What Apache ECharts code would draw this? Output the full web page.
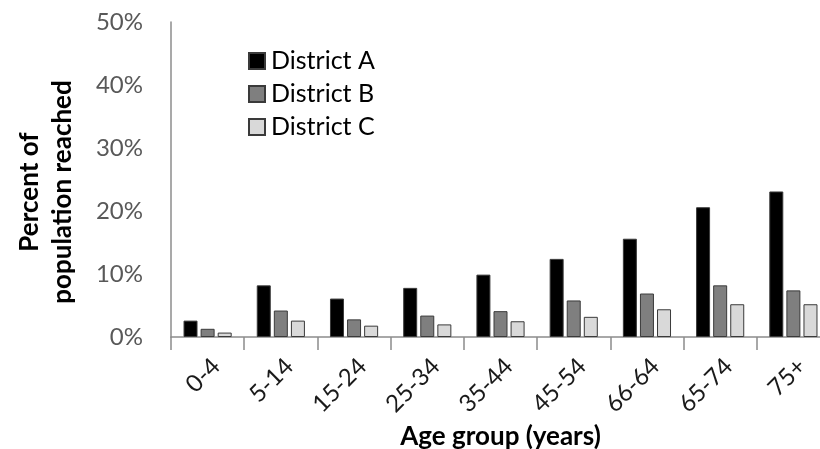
<!DOCTYPE html>
<html>
<head>
<meta charset="utf-8">
<script src="https://cdn.jsdelivr.net/npm/echarts@6/dist/echarts.min.js"></script>
<style>html,body{margin:0;padding:0;background:#fff;}#c{width:820px;height:449px;}</style>
</head>
<body>
<div id="c"></div>
<script>
const categories = ['0-4', '5-14', '15-24', '25-34', '35-44', '45-54', '66-64', '65-74', '75+'];
const districtA = [2.6, 8.2, 6.1, 7.8, 9.9, 12.4, 15.6, 20.6, 23.1];
const districtB = [1.3, 4.2, 2.8, 3.4, 4.1, 5.8, 6.9, 8.2, 7.4];
const districtC = [0.7, 2.6, 1.8, 2.0, 2.5, 3.2, 4.4, 5.2, 5.2];
const seriesNames = ['District A', 'District B', 'District C'];
const yTicks = [0, 10, 20, 30, 40, 50];

const FONT = 'Lato';
const chart = echarts.init(document.getElementById('c'), null, {renderer: 'canvas'});
const colors = ['#000000', '#7f7f7f', '#d9d9d9'];
const datas = [districtA, districtB, districtC];

chart.setOption({
  animation: false,
  backgroundColor: '#fff',
  grid: {left: 171, top: 22, height: 315, width: 659, containLabel: false, outerBoundsMode: 'none'},
  legend: {
    orient: 'vertical', left: 243, top: 43,
    itemWidth: 16, itemHeight: 16, itemGap: 7,
    icon: 'rect',
    textStyle: {fontFamily: FONT, fontSize: 25, lineHeight: 26, color: '#000', padding: [0, 0, 0, 1]},
    data: seriesNames
  },
  xAxis: {
    type: 'category', data: categories,
    axisLine: {lineStyle: {color: '#8c8c8c', width: 1.5}},
    axisTick: {show: true, interval: 0, length: 13, lineStyle: {color: '#8c8c8c', width: 1.5}},
    axisLabel: {interval: 0, rotate: 45, margin: 17, verticalAlign: 'top', align: 'right',
      fontFamily: FONT, fontSize: 24, color: '#1a1a1a'},
    name: 'Age group (years)', nameLocation: 'middle', nameGap: 85,
    nameTextStyle: {fontFamily: FONT, fontSize: 26, fontWeight: 'bold', color: '#000'}
  },
  yAxis: {
    type: 'value', min: yTicks[0], max: yTicks[yTicks.length - 1], interval: 10,
    axisLine: {show: true, lineStyle: {color: '#8c8c8c', width: 1.5}},
    axisTick: {show: false},
    splitLine: {show: false},
    axisLabel: {formatter: '{value}%', margin: 28, fontFamily: FONT, fontSize: 24, color: '#595959'}
  },
  graphic: [{
    type: 'text', x: 46, y: 192, rotation: Math.PI / 2,
    style: {text: 'Percent of\npopulation reached', align: 'center', verticalAlign: 'middle',
      fontFamily: FONT, fontSize: 26, fontWeight: 'bold', fill: '#000', lineHeight: 33}
  }],
  series: seriesNames.map((n, i) => ({
    name: n, type: 'bar', data: datas[i],
    barWidth: 14, barGap: '22%',
    itemStyle: {color: colors[i], borderColor: '#3a3a3a', borderWidth: 1}
  }))
});
</script>
</body>
</html>
